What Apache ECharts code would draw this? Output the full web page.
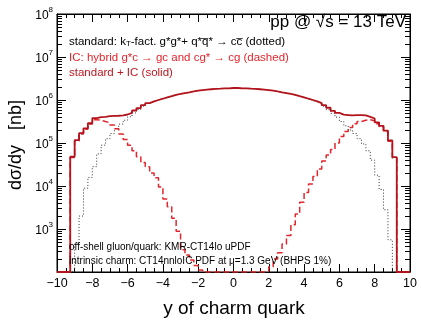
<!DOCTYPE html>
<html>
<head>
<meta charset="utf-8">
<script src="https://cdn.jsdelivr.net/npm/echarts@6/dist/echarts.min.js"></script>
<style>
  html, body { margin: 0; padding: 0; background: #fff; }
  #chart { width: 422px; height: 320px; }
</style>
</head>
<body>
<div id="chart"></div>
<script>
// histogram binning in rapidity y: 80 bins of 0.25 from -10 to 10
const binLow = -10;
const binWidth = 0.25;

// dσ/dy [nb], standard + IC (solid)
const totalXsec = [
  0, 0, 0, 4.79e4, 1.17e5, 1.70e5, 2.19e5, 2.88e5, 3.80e5, 3.98e5,
  4.07e5, 4.20e5, 4.27e5, 4.30e5, 4.37e5, 4.60e5, 5.0e5, 5.7e5, 6.5e5, 7.6e5,
  8.5e5, 9.3e5, 1.0e6, 1.07e6, 1.15e6, 1.23e6, 1.32e6, 1.38e6, 1.45e6, 1.51e6,
  1.58e6, 1.66e6, 1.70e6, 1.74e6, 1.78e6, 1.82e6, 1.83e6, 1.86e6, 1.87e6, 1.90e6,
  1.90e6, 1.87e6, 1.86e6, 1.83e6, 1.81e6, 1.78e6, 1.74e6, 1.70e6, 1.66e6, 1.58e6,
  1.51e6, 1.45e6, 1.38e6, 1.32e6, 1.23e6, 1.15e6, 1.07e6, 1.0e6, 9.3e5, 8.5e5,
  7.6e5, 6.6e5, 5.6e5, 5.0e5, 4.57e5, 4.47e5, 4.37e5, 4.47e5, 4.45e5, 4.37e5,
  4.07e5, 3.72e5, 3.02e5, 2.51e5, 1.95e5, 1.15e5, 4.68e4, 0, 0, 0
];

// IC: hybrid g*c -> gc and cg* -> cg (dashed)
const icXsec = [
  0, 0, 0, 4.57e4, 1.12e5, 1.62e5, 2.09e5, 2.75e5, 3.47e5, 3.39e5,
  3.16e5, 2.95e5, 2.63e5, 2.14e5, 1.62e5, 1.20e5, 8.9e4, 6.6e4, 4.8e4, 3.5e4,
  2.8e4, 2.0e4, 1.55e4, 9.5e3, 5.0e3, 3.3e3, 1.78e3, 890, 330, 250,
  190, 141, 112, 0, 0, 0, 0, 0, 0, 0,
  0, 0, 0, 0, 0, 0, 0, 105, 132, 200,
  282, 447, 708, 1.26e3, 2.24e3, 4.17e3, 7.1e3, 1.12e4, 1.66e4, 2.5e4,
  3.8e4, 5.25e4, 7.1e4, 1.0e5, 1.41e5, 1.86e5, 2.29e5, 2.82e5, 3.16e5, 3.39e5,
  3.47e5, 3.31e5, 2.82e5, 2.40e5, 1.86e5, 1.10e5, 4.47e4, 0, 0, 0
];

// standard kT-factorization g*g* + q*qbar* -> c cbar (dotted)
const stdXsec = [
  0, 0, 0, 0, 447, 2.0e3, 8.9e3, 1.58e4, 2.82e4, 5.6e4,
  8.9e4, 1.26e5, 1.66e5, 2.14e5, 2.75e5, 3.39e5, 4.07e5, 5.0e5, 6.0e5, 7.2e5,
  8.3e5, 9.1e5, 9.8e5, 1.06e6, 1.14e6, 1.22e6, 1.31e6, 1.37e6, 1.44e6, 1.50e6,
  1.58e6, 1.66e6, 1.70e6, 1.74e6, 1.78e6, 1.82e6, 1.83e6, 1.86e6, 1.87e6, 1.90e6,
  1.90e6, 1.87e6, 1.86e6, 1.83e6, 1.81e6, 1.78e6, 1.74e6, 1.70e6, 1.66e6, 1.58e6,
  1.51e6, 1.45e6, 1.38e6, 1.31e6, 1.22e6, 1.14e6, 1.06e6, 9.8e5, 9.1e5, 8.3e5,
  7.2e5, 6.0e5, 4.9e5, 4.0e5, 3.16e5, 2.51e5, 2.0e5, 1.66e5, 1.26e5, 9.5e4,
  6.6e4, 4.0e4, 1.78e4, 8.3e3, 2.8e3, 560, 0, 0, 0, 0
];

const yMin = 1e2;
const yMax = 1e8;
const font = 'Liberation Sans, Arial, Helvetica, sans-serif';

// turn bin contents into step points, empty bins sit on the frame bottom
function histPoints(vals) {
  const pts = [];
  vals.forEach((v, i) => {
    pts.push([binLow + i * binWidth, Math.max(v, yMin)]);
  });
  pts.push([binLow + vals.length * binWidth, Math.max(vals[vals.length - 1], yMin)]);
  return pts;
}

// log minor ticks 2..9 in every decade
const minorTicks = [];
for (let e = 2; e < 8; e++) {
  for (let k = 2; k <= 9; k++) minorTicks.push([binLow, k * Math.pow(10, e)]);
}

const chart = echarts.init(document.getElementById('chart'));

const xAxisBase = {
  type: 'value',
  min: -10,
  max: 10,
  interval: 2,
  axisLine: { onZero: false, lineStyle: { color: '#000', width: 1 } },
  axisTick: { inside: true, length: 8, lineStyle: { color: '#000' } },
  minorTick: { show: true, splitNumber: 4, length: 4, lineStyle: { color: '#000' } },
  splitLine: { show: false }
};

const yAxisBase = {
  type: 'log',
  logBase: 10,
  min: yMin,
  max: yMax,
  splitNumber: 6,
  axisLine: { onZero: false, lineStyle: { color: '#000', width: 1 } },
  axisTick: { inside: true, length: 9, lineStyle: { color: '#000' } },
  splitLine: { show: false }
};

chart.setOption({
  animation: false,
  backgroundColor: '#fff',
  grid: { left: 57, right: 12, top: 14, bottom: 48, show: true, borderColor: '#000', borderWidth: 1, backgroundColor: 'transparent' },
  xAxis: [
    Object.assign({}, xAxisBase, {
      position: 'bottom',
      axisLabel: {
        color: '#000', fontSize: 12.5, fontFamily: font, margin: 5,
        formatter: v => (v < 0 ? '\u2212' : '') + Math.abs(v)
      }
    }),
    Object.assign({}, xAxisBase, { position: 'top', axisLabel: { show: false } })
  ],
  yAxis: [
    Object.assign({}, yAxisBase, {
      position: 'left',
      axisLabel: {
        margin: 4,
        showMinLabel: false,
        formatter: v => '{b|10}{s|' + Math.round(Math.log10(v)) + '}',
        rich: {
          b: { fontSize: 12, fontFamily: font, color: '#000', lineHeight: 16, verticalAlign: 'bottom' },
          s: { fontSize: 8, fontFamily: font, color: '#000', lineHeight: 16, verticalAlign: 'top' }
        }
      }
    }),
    Object.assign({}, yAxisBase, { position: 'right', axisLabel: { show: false } })
  ],
  series: [
    {
      type: 'custom',
      silent: true,
      clip: false,
      xAxisIndex: 0,
      yAxisIndex: 0,
      data: minorTicks,
      renderItem: (params, api) => {
        const cs = params.coordSys;
        const y = Math.round(api.coord([api.value(0), api.value(1)])[1]) + 0.5;
        const st = { stroke: '#000', lineWidth: 1 };
        return {
          type: 'group',
          children: [
            { type: 'line', shape: { x1: cs.x, y1: y, x2: cs.x + 5, y2: y }, style: st },
            { type: 'line', shape: { x1: cs.x + cs.width - 5, y1: y, x2: cs.x + cs.width, y2: y }, style: st }
          ]
        };
      }
    },
    {
      name: 'standard',
      type: 'line',
      step: 'end',
      showSymbol: false,
      clip: true,
      data: histPoints(stdXsec),
      lineStyle: { color: '#333', width: 1, type: [1, 2] },
      z: 3
    },
    {
      name: 'IC',
      type: 'line',
      step: 'end',
      showSymbol: false,
      clip: true,
      data: histPoints(icXsec),
      lineStyle: { color: '#e3262d', width: 1.5, type: [6, 3] },
      z: 4
    },
    {
      name: 'standard + IC',
      type: 'line',
      step: 'end',
      showSymbol: false,
      clip: true,
      data: histPoints(totalXsec),
      lineStyle: { color: '#b3141c', width: 1.8 },
      z: 5
    }
  ],
  graphic: [
    {
      type: 'text', x: 406, y: 14, z: 10,
      style: { text: 'pp @ \u221As = 13 TeV', font: '17px ' + font, fill: '#000', align: 'right', verticalAlign: 'top' }
    },
    {
      type: 'text', left: 69, top: 36, z: 10,
      style: {
        text: '{t|standard: k}{sub|T}{t|-fact. g*g*+ q*q\u0305* \u2192 cc\u0305 (dotted)}',
        rich: {
          t: { font: '11.5px ' + font, fill: '#000', lineHeight: 14, verticalAlign: 'bottom' },
          sub: { font: '8px ' + font, fill: '#000', lineHeight: 14, padding: [4, 0, 0, 0], verticalAlign: 'bottom' }
        }
      }
    },
    {
      type: 'text', left: 69, top: 52, z: 10,
      style: { text: 'IC: hybrid g*c \u2192 gc and cg* \u2192 cg (dashed)', font: '11.5px ' + font, fill: '#e3262d' }
    },
    {
      type: 'text', left: 69, top: 67, z: 10,
      style: { text: 'standard + IC (solid)', font: '11.5px ' + font, fill: '#c0161f' }
    },
    {
      type: 'text', left: 69, top: 242, z: 10,
      style: { text: 'off-shell gluon/quark: KMR-CT14lo uPDF', font: '10px ' + font, fill: '#000' }
    },
    {
      type: 'text', left: 69, top: 256, z: 10,
      style: { text: 'intrinsic charm: CT14nnloIC PDF at \u03bc=1.3 GeV (BHPS 1%)', font: '10px ' + font, fill: '#000' }
    },
    {
      type: 'text', x: 234, y: 309, z: 10,
      style: { text: 'y of charm quark', font: '19px ' + font, fill: '#000', align: 'center', verticalAlign: 'middle' }
    },
    {
      type: 'text', x: 16, y: 145, rotation: Math.PI / 2, z: 10,
      style: { text: 'd\u03c3/dy   [nb]', font: '18px ' + font, fill: '#000', align: 'center', verticalAlign: 'middle' }
    }
  ]
});
</script>
</body>
</html>
